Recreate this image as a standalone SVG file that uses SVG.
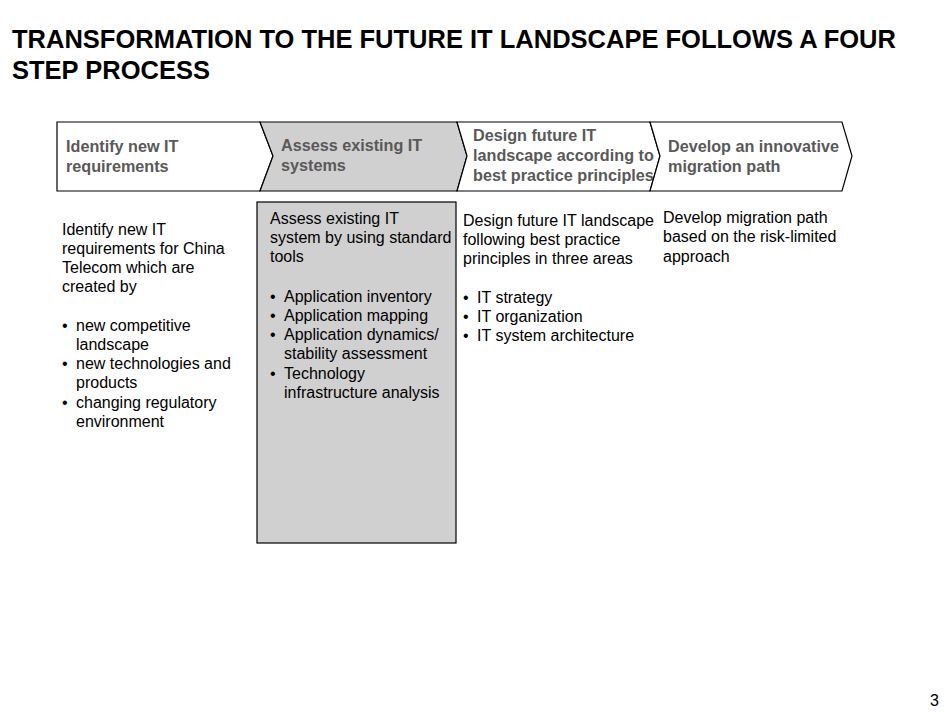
<svg xmlns="http://www.w3.org/2000/svg" width="950" height="713" viewBox="0 0 950 713">
<style>
.t{font-family:"Liberation Sans",Arial,sans-serif;font-weight:bold;font-size:25.5px;fill:#000}
.h{font-family:"Liberation Sans",Arial,sans-serif;font-weight:bold;font-size:16.2px;fill:#595959}
.b{font-family:"Liberation Sans",Arial,sans-serif;font-size:16px;fill:#000}
.c{stroke:#000;stroke-width:1.2;fill:#fff}
</style>
<rect width="950" height="713" fill="#fff"/>
<text class="t" x="12" y="48">TRANSFORMATION TO THE FUTURE IT LANDSCAPE FOLLOWS A FOUR</text>
<text class="t" x="12" y="79">STEP PROCESS</text>
<g id="step1"><path class="c" d="M57,122 H260 L273,156 L260,191 H57 Z"/>
<text class="h"><tspan x="66" y="152">Identify new IT</tspan><tspan x="66" y="172">requirements</tspan></text></g>
<g id="step2"><path class="c" style="fill:#d0d0d0" d="M260,122 H457 L467,156 L457,191 H260 L273,156 Z"/>
<text class="h"><tspan x="281" y="151">Assess existing IT</tspan><tspan x="281" y="171">systems</tspan></text></g>
<g id="step3"><path class="c" d="M457,122 H650 L660,156 L650,191 H457 L467,156 Z"/>
<text class="h"><tspan x="473" y="141">Design future IT</tspan><tspan x="473" y="161">landscape according to</tspan><tspan x="473" y="181">best practice principles</tspan></text></g>
<g id="step4"><path class="c" d="M650,122 H842 L852,156 L842,191 H650 L660,156 Z"/>
<text class="h"><tspan x="668" y="152">Develop an innovative</tspan><tspan x="668" y="172">migration path</tspan></text></g>
<g id="desc1"><text class="b"><tspan x="62" y="235">Identify new IT</tspan><tspan x="62" y="254">requirements for China</tspan><tspan x="62" y="273">Telecom which are</tspan><tspan x="62" y="292">created by</tspan>
<tspan x="62" y="331">•</tspan><tspan x="76" y="331">new competitive</tspan><tspan x="76" y="350">landscape</tspan><tspan x="62" y="369">•</tspan><tspan x="76" y="369">new technologies and</tspan><tspan x="76" y="388">products</tspan><tspan x="62" y="408">•</tspan><tspan x="76" y="408">changing regulatory</tspan><tspan x="76" y="427">environment</tspan></text></g>
<g id="desc2"><rect x="257" y="202" width="199" height="341" fill="#d0d0d0" stroke="#000" stroke-width="1.2"/>
<text class="b"><tspan x="270" y="224">Assess existing IT</tspan><tspan x="270" y="243">system by using standard</tspan><tspan x="270" y="262">tools</tspan>
<tspan x="270" y="302">•</tspan><tspan x="284" y="302">Application inventory</tspan><tspan x="270" y="321">•</tspan><tspan x="284" y="321">Application mapping</tspan><tspan x="270" y="340">•</tspan><tspan x="284" y="340">Application dynamics/</tspan><tspan x="284" y="359">stability assessment</tspan><tspan x="270" y="379">•</tspan><tspan x="284" y="379">Technology</tspan><tspan x="284" y="398">infrastructure analysis</tspan></text></g>
<g id="desc3"><text class="b"><tspan x="463" y="226">Design future IT landscape</tspan><tspan x="463" y="245">following best practice</tspan><tspan x="463" y="264">principles in three areas</tspan>
<tspan x="463" y="303">•</tspan><tspan x="477" y="303">IT strategy</tspan><tspan x="463" y="322">•</tspan><tspan x="477" y="322">IT organization</tspan><tspan x="463" y="341">•</tspan><tspan x="477" y="341">IT system architecture</tspan></text></g>
<g id="desc4"><text class="b"><tspan x="663" y="223">Develop migration path</tspan><tspan x="663" y="242">based on the risk-limited</tspan><tspan x="663" y="262">approach</tspan></text></g>
<g id="connectors"/>
<text class="b" x="930" y="706">3</text>
</svg>
